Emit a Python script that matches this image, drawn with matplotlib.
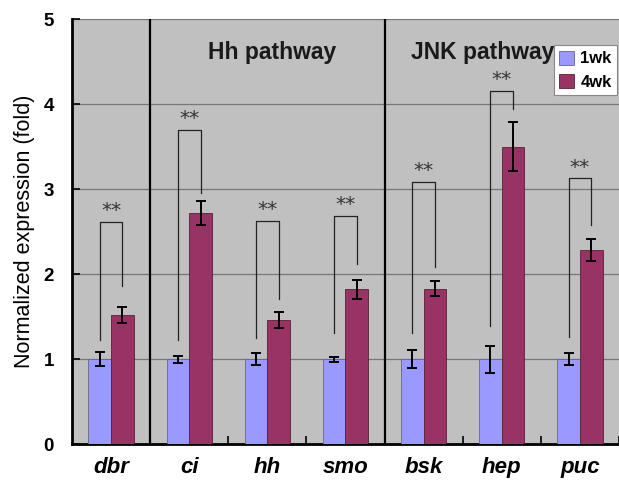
import numpy as np
import matplotlib
matplotlib.use("Agg")
import matplotlib.pyplot as plt

plt.rcParams["font.family"] = ["Liberation Sans", "DejaVu Sans"]

# ---------------------------------------------------------------- data
genes = ["dbr", "ci", "hh", "smo", "bsk", "hep", "puc"]
wk1 = [1.00, 1.00, 1.00, 1.00, 1.00, 1.00, 1.00]
wk1_err = [0.08, 0.04, 0.07, 0.03, 0.11, 0.16, 0.07]
wk4 = [1.52, 2.72, 1.46, 1.82, 1.83, 3.50, 2.28]
wk4_err = [0.09, 0.14, 0.09, 0.11, 0.09, 0.29, 0.13]
# significance brackets: top, left-leg bottom, right-leg bottom
br_top = [2.62, 3.70, 2.63, 2.69, 3.09, 4.16, 3.13]
br_left = [1.22, 1.22, 1.25, 1.31, 1.31, 1.39, 1.26]
br_right = [1.86, 2.96, 1.71, 2.12, 2.09, 3.94, 2.58]
groups = [("Hh pathway", 2.06), ("JNK pathway", 4.75)]
separators = [0.5, 3.5]

# ---------------------------------------------------------------- colours
BG = "#C0C0C0"
C1 = "#9999FF"
C4 = "#993366"
GRID = "#777777"

fig = plt.figure(figsize=(6.19, 4.83), dpi=100)
ax = fig.add_axes([0.1163, 0.0807, 0.8837, 0.879])
ax.set_facecolor(BG)

x = np.arange(len(genes))
w = 0.29
ax.bar(x - w / 2, wk1, w, color=C1, edgecolor="#666688", linewidth=0.6, zorder=3, label="1wk")
ax.bar(x + w / 2, wk4, w, color=C4, edgecolor="#552233", linewidth=0.6, zorder=3, label="4wk")
ax.errorbar(x - w / 2, wk1, yerr=wk1_err, fmt="none", ecolor="black",
            elinewidth=1.4, capsize=3.5, capthick=1.4, zorder=4)
ax.errorbar(x + w / 2, wk4, yerr=wk4_err, fmt="none", ecolor="black",
            elinewidth=1.4, capsize=3.5, capthick=1.4, zorder=4)

# brackets with stars
for i in range(len(genes)):
    xl, xr = x[i] - w / 2, x[i] + w / 2
    ax.plot([xl, xl, xr, xr], [br_left[i], br_top[i], br_top[i], br_right[i]],
            color="#222222", lw=0.9, zorder=5)
    ax.text(x[i], br_top[i] + 0.02, "**", ha="center", va="bottom",
            fontsize=14.5, color="#333333", family="DejaVu Sans", zorder=5)

# horizontal grid
for yv in [1, 2, 3, 4, 5]:
    ax.axhline(yv, color=GRID, lw=0.9, zorder=1)

# group separators
for s in separators:
    ax.axvline(s, color="black", lw=1.6, zorder=2)

for name, gx in groups:
    ax.text(gx, 4.61, name, ha="center", va="center", fontsize=16.5,
            fontweight="bold", color="#1a1a1a", zorder=6)

ax.set_xlim(-0.5, 6.46)
ax.set_ylim(0, 5)
ax.set_yticks([0, 1, 2, 3, 4, 5])
ax.set_yticklabels(["0", "1", "2", "3", "4", "5"], fontsize=13.5, fontweight="bold")
ax.tick_params(axis="y", direction="in", length=6, width=1.2, pad=13)
ax.set_xticks(x)
ax.set_xticklabels(genes, fontsize=16, fontweight="bold", fontstyle="italic")
ax.set_xticks(np.arange(len(genes)) + 0.5, minor=True)
ax.tick_params(axis="x", which="major", length=0, pad=9)
ax.tick_params(axis="x", which="minor", direction="in", length=6, width=1.2)

for side in ["top", "right"]:
    ax.spines[side].set_visible(False)
ax.spines["left"].set_linewidth(2)
ax.spines["bottom"].set_linewidth(2)

ax.set_ylabel("Normalized expression (fold)", fontsize=15.5)
ax.yaxis.set_label_coords(-0.068, 0.5)

leg = ax.legend(loc="upper right", bbox_to_anchor=(0.997, 0.94), borderaxespad=0,
                fancybox=False, framealpha=1, edgecolor="#888888",
                prop={"weight": "bold", "size": 12}, handlelength=0.9,
                handleheight=0.9, handletextpad=0.35, borderpad=0.35,
                labelspacing=0.45)
leg.get_frame().set_linewidth(0.8)
leg.set_zorder(10)

fig.savefig("out.png", dpi=100)
